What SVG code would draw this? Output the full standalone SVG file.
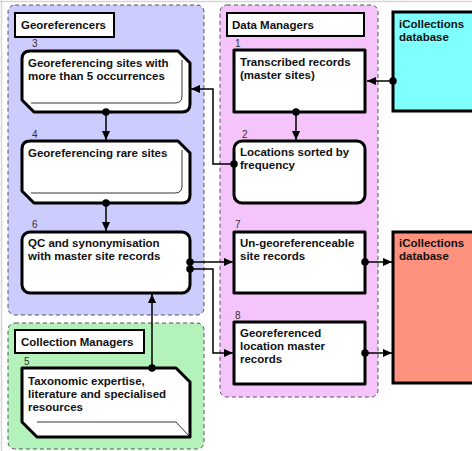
<svg xmlns="http://www.w3.org/2000/svg" width="472" height="451" viewBox="0 0 472 451">
<defs>
<style>
text{font-family:"Liberation Sans",Arial,sans-serif;}
.t{font-size:11.5px;font-weight:bold;fill:#111;}
.n{font-size:10px;fill:#333;}
.grp{stroke:#555;stroke-width:1;stroke-dasharray:4,3;}
.node{fill:#fff;stroke:#000;stroke-width:3;stroke-linejoin:round;}
.thin{fill:none;stroke:#000;stroke-width:0.8;}
.title{fill:#fff;stroke:#000;stroke-width:2;}
.c{fill:none;stroke:#000;stroke-width:1.5;marker-start:url(#dot);marker-end:url(#arr);}
</style>
<marker id="arr" viewBox="0 0 10 10" refX="10" refY="5" markerWidth="9" markerHeight="9" markerUnits="userSpaceOnUse" orient="auto"><path d="M0,0.5 L10,5 L0,9.5 z" fill="#000"/></marker>
<marker id="dot" viewBox="0 0 10 10" refX="5" refY="5" markerWidth="7.5" markerHeight="7.5" markerUnits="userSpaceOnUse"><circle cx="5" cy="5" r="5" fill="#000"/></marker>
</defs>
<rect width="472" height="451" fill="#fff"/>
<path d="M0,1.5 H472 M1.5,0 V451" stroke="#d6d6d6" stroke-width="1.5" fill="none"/>

<g id="georeferencers">
<rect class="grp" x="8" y="5" width="196" height="310" rx="7" fill="#ccccff"/>
<rect class="title" x="15" y="13" width="99" height="24"/>
<text class="t" x="21" y="29">Georeferencers</text>
</g>
<g id="data-managers">
<rect class="grp" x="220" y="5" width="158" height="392" rx="7" fill="#f5c4fa"/>
<rect class="title" x="227" y="13" width="137" height="23"/>
<text class="t" x="232" y="29">Data Managers</text>
</g>
<g id="collection-managers">
<rect class="grp" x="8" y="323" width="196" height="126" rx="7" fill="#b3f3bb"/>
<rect class="title" x="15" y="330" width="129" height="23"/>
<text class="t" x="21" y="346">Collection Managers</text>
</g>

<g id="db-in">
<rect x="393" y="12" width="85" height="99" fill="#80ffff" stroke="#000" stroke-width="3"/>
<text class="t" x="399" y="28">iCollections</text>
<text class="t" x="399" y="41">database</text>
</g>
<g id="db-out">
<rect x="393" y="232" width="85" height="151" fill="#ff917f" stroke="#000" stroke-width="3"/>
<text class="t" x="399" y="247">iCollections</text>
<text class="t" x="399" y="260">database</text>
</g>

<g id="node1">
<text class="n" x="235" y="47">1</text>
<rect class="node" x="234" y="50" width="131" height="62" stroke-linejoin="miter"/>
<text class="t" x="240" y="66">Transcribed records</text>
<text class="t" x="240" y="79">(master sites)</text>
</g>
<g id="node2">
<text class="n" x="242" y="138">2</text>
<rect class="node" x="234" y="141" width="131" height="62" rx="8"/>
<text class="t" x="240" y="156">Locations sorted by</text>
<text class="t" x="240" y="169">frequency</text>
</g>
<g id="node3">
<text class="n" x="32" y="47">3</text>
<path class="node" d="M30,51 H178 L190,63 V104 Q190,112 182,112 H34 L22,100 V59 Q22,51 30,51 Z"/>
<path class="thin" d="M31,103 H175 Q182,103 182,96 V60"/>
<text class="t" x="28" y="67">Georeferencing sites with</text>
<text class="t" x="28" y="80">more than 5 occurrences</text>
</g>
<g id="node4">
<text class="n" x="32" y="138">4</text>
<path class="node" d="M30,141 H178 L190,153 V195 Q190,203 182,203 H34 L22,191 V149 Q22,141 30,141 Z"/>
<path class="thin" d="M31,193 H175 Q182,193 182,186 V150"/>
<text class="t" x="28" y="157">Georeferencing rare sites</text>
</g>
<g id="node6">
<text class="n" x="32" y="228">6</text>
<rect class="node" x="22" y="232" width="168" height="61" rx="8"/>
<text class="t" x="28" y="247">QC and synonymisation</text>
<text class="t" x="28" y="260">with master site records</text>
</g>
<g id="node5">
<text class="n" x="24" y="365">5</text>
<path class="node" d="M22,368 H176 L190,382 V437 H37 L22,422 Z" stroke-linejoin="miter"/>
<path class="thin" d="M37,422 H176 L190,437"/>
<text class="t" x="28" y="385">Taxonomic expertise,</text>
<text class="t" x="28" y="398">literature and specialised</text>
<text class="t" x="28" y="411">resources</text>
</g>
<g id="node7">
<text class="n" x="235" y="228">7</text>
<rect class="node" x="234" y="232" width="131" height="61" stroke-linejoin="miter"/>
<text class="t" x="240" y="247">Un-georeferenceable</text>
<text class="t" x="240" y="260">site records</text>
</g>
<g id="node8">
<text class="n" x="235" y="319">8</text>
<rect class="node" x="234" y="322" width="131" height="62" stroke-linejoin="miter"/>
<text class="t" x="240" y="337">Georeferenced</text>
<text class="t" x="240" y="350">location master</text>
<text class="t" x="240" y="363">records</text>
</g>

<g id="connectors">
<path class="c" d="M393,81 H367"/>
<path class="c" d="M296,112 V140"/>
<path class="c" d="M234,164 H213 V89 H191"/>
<path class="c" d="M106,112 V140"/>
<path class="c" d="M106,203 V231"/>
<path class="c" d="M190,262 H233"/>
<path class="c" d="M190,269 H213 V353 H233"/>
<path class="c" d="M152,368 V294"/>
<path class="c" d="M365,262 H392"/>
<path class="c" d="M365,353 H392"/>
</g>
</svg>
